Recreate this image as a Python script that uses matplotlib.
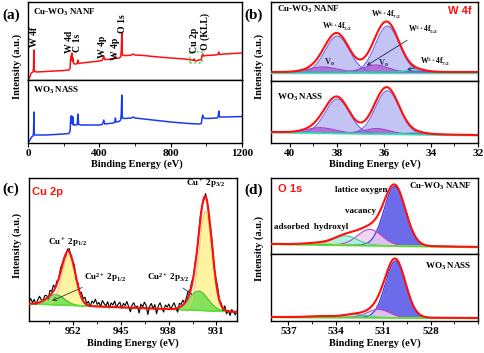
import matplotlib.pyplot as plt
import numpy as np
from matplotlib.ticker import MultipleLocator
from matplotlib.patches import Rectangle

plt.rcParams['font.family'] = 'Liberation Serif'
plt.rcParams['font.weight'] = 'bold'
plt.rcParams['mathtext.fontset'] = 'custom'
plt.rcParams['mathtext.rm'] = 'Liberation Serif:bold'
plt.rcParams['mathtext.it'] = 'Liberation Serif:bold'
plt.rcParams['mathtext.bf'] = 'Liberation Serif:bold'
plt.rcParams['axes.linewidth'] = 1.0

# ---------------- (a) survey spectra ----------------
survey_e_red = [0, 8, 18, 28, 31, 33, 35, 38, 50, 100, 150, 200, 230, 236, 240, 243, 246,
                249, 252, 255, 258, 262, 270, 276, 280, 284, 300, 350, 400, 415, 420, 425,
                430, 440, 480, 487, 490, 494, 510, 520, 523, 526, 529, 535, 560, 580, 590,
                600, 650, 700, 800, 880, 920, 928, 932, 936, 945, 955, 965, 972, 976, 980,
                985, 1000, 1050, 1065, 1070, 1074, 1100, 1150, 1200]
survey_i_red = [1, 2, 7, 8, 12, 30, 10, 8.5, 8, 8.5, 9, 9.5, 10, 12, 24, 20, 27,
                19, 22, 17, 16.5, 16, 16, 16.5, 20, 16.5, 17, 18, 19, 19.5, 21, 24,
                20.5, 20.5, 21, 22, 24, 21.5, 22, 23, 30, 47, 25, 24.5, 24.5, 25, 26,
                25, 24.5, 23.5, 22, 21, 20, 19.5, 21, 19.5, 19, 20, 20, 20.5, 24, 26,
                24, 24.5, 25, 25.5, 28, 25.5, 26, 26.5, 27]
survey_e_blue = [0, 8, 20, 28, 31, 33, 35, 38, 60, 100, 150, 200, 230, 236, 240, 243, 246,
                 249, 252, 255, 258, 270, 276, 280, 284, 300, 400, 415, 420, 425, 430, 480,
                 487, 490, 494, 510, 520, 523, 526, 529, 540, 580, 590, 600, 700, 800, 900,
                 960, 972, 976, 980, 985, 1000, 1060, 1066, 1070, 1074, 1100, 1150, 1200]
survey_i_blue = [1, 2, 6, 7, 10, 31, 9, 8, 8, 8, 8.5, 9, 9.5, 12, 27, 20, 27,
                 19, 26, 18, 18, 18, 18.5, 29, 18.5, 18, 18, 18.5, 20, 23, 19, 20,
                 21, 25, 21, 21.5, 23, 30, 48, 25, 24.5, 25, 26, 25, 23, 21, 19.5,
                 19, 19.5, 25, 28, 25, 24.5, 25, 26, 32, 26, 26, 26.2, 26.5]
survey_labels = ['W 4f', 'W 4d', 'C 1s', 'W 4p', 'W 4p', 'O 1s', 'Cu 2p', 'O (KLL)']
survey_label_e = [34, 235, 280, 415, 488, 531, 931, 996]
survey_label_i = [33, 27, 28, 22, 20, 47, 27, 30]

# ---------------- (b) W 4f fits ----------------
w_centers_top = [37.98, 35.85, 38.6, 36.35, 34.6]
w_heights_top = [36, 46, 5, 7, 2]
w_fwhm_top = [1.2, 1.2, 1.4, 1.2, 1.0]
w_bkg_top = [9.0, 9.0]
w_centers_bot = [37.98, 35.85, 38.7, 36.3, 34.6]
w_heights_bot = [34, 43, 5, 5, 1.5]
w_fwhm_bot = [1.2, 1.2, 1.4, 1.2, 1.0]
w_bkg_bot = [11.0, 8.0]
w_kind = ['w6', 'w6', 'w5', 'w5', 'w5b']

# ---------------- (c) Cu 2p fit ----------------
cu_centers = [932.6, 952.6, 933.6, 954.5]
cu_heights = [98, 50, 19, 10]
cu_fwhm = [2.2, 2.3, 3.2, 3.0]
cu_kind = ['cu1', 'cu1', 'cu2', 'cu2']
cu_bkg = [17.0, 9.0]
cu_noise = [2, 5, 1, 4, -1, 3, 6, 2, 0, 4, 3, -2, 5, 2, 6, 0, 3, -1, 4, 2,
            1, -2, 2, 3, -1, 1, 4, -2, 3, 0, 5, 2, 6, 1, 4, -1, 5, 3, 7, 2,
            4, 0, 6, 3, 1, 5, -1, 4, 2, 6, 0, 3, 5, -1, 4, 2, 6, 1, -4, 3,
            5, 0, 2, -5, 4, 1, 6, 3, -6, 2, 5, 0, 4, -5, 3, 6, 1, -3, 4, 2,
            5, 0, 3, 6, 1, -4, 4, 2, 5, 0, 3, 6, 2, 4, 1, 3, -1, 2, 4, 1,
            -2, 3, 1, -3, 2, 4, -1, 3, 5, 0, 2, -2, 4, -3, 1, -4, 2, 0, -3, 1]

# ---------------- (d) O 1s fits ----------------
o_centers_top = [530.27, 531.85, 533.4, 535.2]
o_heights_top = [58.5, 15.7, 9, 1.5]
o_fwhm_top = [1.6, 1.8, 1.8, 1.8]
o_bkg_top = [10.0, 7.0]
o_centers_bot = [530.22, 531.3, 532.8, 535.0]
o_heights_bot = [55.8, 8, 3, 1]
o_fwhm_bot = [1.5, 1.6, 1.8, 1.8]
o_bkg_bot = [4.0, 3.0]
o_kind = ['latt', 'vac', 'oh', 'ads']

W, H = 484, 353
fig = plt.figure(figsize=(W / 100, H / 100), dpi=100)


def make_ax(x0, y0, x1, y1):
    # pixel box (top-left origin) -> figure fraction
    return fig.add_axes([x0 / W, 1 - y1 / H, (x1 - x0) / W, (y1 - y0) / H])


def gauss(x, c, h, w):
    return h * np.exp(-4 * np.log(2) * (x - c) ** 2 / w ** 2)


def style(ax, top):
    ax.set_yticks([])
    ax.tick_params(axis='x', direction='out', length=3, width=0.8, labelsize=8, pad=1.5)
    ax.tick_params(axis='x', which='minor', direction='out', length=2, width=0.6)
    if top:
        ax.tick_params(axis='x', which='both', bottom=False, labelbottom=False)


def draw_fit(ax, x, bkg_ends, centers, heights, fwhm, kinds, colors):
    bkg = np.interp(x, [x[-1], x[0]], [bkg_ends[1], bkg_ends[0]])
    total = bkg.copy()
    for c, h, w, k in zip(centers, heights, fwhm, kinds):
        g = gauss(x, c, h, w)
        total += g
        fc, ec, a = colors[k]
        ax.fill_between(x, bkg, bkg + g, color=fc, alpha=a, lw=0, zorder=2)
        ax.plot(x, bkg + g, color=ec, lw=0.8, zorder=3)
    return bkg, total


# ---------- (a) ----------
a1 = make_ax(28, 2, 242, 80)
a2 = make_ax(28, 80, 242, 143)
a1.plot(survey_e_red, survey_i_red, color='#ff1010', lw=1.1)
a2.plot(survey_e_blue, survey_i_blue, color='#1a3cf0', lw=1.1)
for ax, top in [(a1, True), (a2, False)]:
    ax.set_xlim(0, 1200)
    ax.xaxis.set_major_locator(MultipleLocator(400))
    ax.xaxis.set_minor_locator(MultipleLocator(200))
    style(ax, top)
a1.set_ylim(0, 78)
a2.set_ylim(0, 63)
for lab, e, i in zip(survey_labels, survey_label_e, survey_label_i):
    a1.text(e, i, lab, rotation=90, ha='center', va='bottom', fontsize=7)
a1.add_patch(Rectangle((908, 17), 68, 11, fill=False, ec='#40e040', ls=':', lw=1.2))
a1.text(0.023, 0.87, 'Cu-WO$_3$ NANF', transform=a1.transAxes, fontsize=6.5, va='center')
a2.text(0.023, 0.84, 'WO$_3$ NASS', transform=a2.transAxes, fontsize=6.5, va='center')

# ---------- (b) ----------
w_colors = {'w6': ('#c4c4f4', '#6a6ae6', 1.0),
            'w5': ('#b050d0', '#a040c8', 0.75),
            'w5b': ('#60e8c0', '#30d0b0', 0.8)}
xb = np.linspace(40.8, 32, 400)
b1 = make_ax(271, 2, 478, 81)
b2 = make_ax(271, 81, 478, 143)
for ax, bk, cs, hs, fw in [(b1, w_bkg_top, w_centers_top, w_heights_top, w_fwhm_top),
                           (b2, w_bkg_bot, w_centers_bot, w_heights_bot, w_fwhm_bot)]:
    bkg, tot = draw_fit(ax, xb, bk, cs, hs, fw, w_kind, w_colors)
    ax.plot(xb, bkg - 0.8, color='#40e0b0', lw=1.0, zorder=3)
    ax.plot(xb, tot, color='#ff1010', lw=1.5, zorder=4)
for ax, top in [(b1, True), (b2, False)]:
    ax.set_xlim(40.8, 32)
    ax.xaxis.set_major_locator(MultipleLocator(2))
    ax.xaxis.set_minor_locator(MultipleLocator(1))
    style(ax, top)
b1.set_ylim(0, 79)
b2.set_ylim(0, 62)
b1.text(0.03, 0.90, 'Cu-WO$_3$ NANF', transform=b1.transAxes, fontsize=6.5, va='center')
b1.text(0.97, 0.89, 'W 4f', transform=b1.transAxes, fontsize=8, va='center', ha='right',
        color='#ff1010', family='Liberation Sans')
b2.text(0.03, 0.73, 'WO$_3$ NASS', transform=b2.transAxes, fontsize=6.5, va='center')
b1.text(37.98, 54, 'W$^{6+}$4f$_{5/2}$', fontsize=5.5, ha='center', va='center')
b1.text(35.92, 66, 'W$^{6+}$4f$_{7/2}$', fontsize=5.5, ha='center', va='center')
b1.annotate('W$^{5+}$4f$_{5/2}$', xy=(36.83, 14), xytext=(34.96, 51), fontsize=5.5,
            va='center', arrowprops=dict(arrowstyle='->', color='#202060', lw=0.6))
b1.annotate('W$^{5+}$4f$_{7/2}$', xy=(35.13, 10.3), xytext=(34.45, 19.5), fontsize=5.5,
            va='center', arrowprops=dict(arrowstyle='->', color='#202060', lw=0.6))
b1.text(38.3, 19, 'V$_o$', fontsize=6, ha='center', va='center', color='#202040')
b1.text(36.0, 18, 'V$_o$', fontsize=6, ha='center', va='center', color='#202040')

# ---------- (c) ----------
cu_colors = {'cu1': ('#fff2a0', '#f0c860', 1.0),
             'cu2': ('#70e050', '#40c030', 0.85)}
xc = np.linspace(958.4, 928, 400)
c1 = make_ax(29, 178, 237, 321)
bkg, tot = draw_fit(c1, xc, cu_bkg, cu_centers, cu_heights, cu_fwhm, cu_kind, cu_colors)
c1.plot(xc, bkg, color='#60e040', lw=1.2, zorder=3)
xn = np.linspace(958.4, 928, len(cu_noise))
raw = np.interp(xn, xc[::-1], tot[::-1]) + np.array(cu_noise)
c1.plot(xn, raw, color='black', lw=0.8, zorder=4)
c1.plot(xc, tot, color='#ff1010', lw=1.5, zorder=5)
c1.set_xlim(958.4, 928)
c1.set_ylim(0, 141)
c1.set_xticks([952, 945, 938, 931])
c1.xaxis.set_minor_locator(MultipleLocator(3.5))
style(c1, False)
c1.text(0.016, 0.905, 'Cu 2p', transform=c1.transAxes, fontsize=8, va='center',
        color='#ff1010', family='Liberation Sans')
c1.text(932.6, 135, 'Cu$^+$ 2p$_{3/2}$', fontsize=6.5, ha='center', va='center')
c1.text(952.8, 77, 'Cu$^+$ 2p$_{1/2}$', fontsize=6.5, ha='center', va='center')
c1.annotate('Cu$^{2+}$ 2p$_{1/2}$', xy=(955.4, 18.7), xytext=(950.3, 43.3), fontsize=6.5,
            va='center', arrowprops=dict(arrowstyle='->', color='#204040', lw=0.6))
c1.annotate('Cu$^{2+}$ 2p$_{3/2}$', xy=(934.2, 24.3), xytext=(938.1, 43.3), fontsize=6.5,
            va='center', ha='center', arrowprops=dict(arrowstyle='->', color='#204040', lw=0.6))

# ---------- (d) ----------
o_colors = {'latt': ('#5c5ce8', '#3030d8', 0.9),
            'vac': ('#f2d0f0', '#c040d0', 0.85),
            'oh': ('#a8f0dc', '#40c8a0', 0.9),
            'ads': ('#f8f080', '#e0d040', 0.9)}
xd = np.linspace(538.1, 525, 400)
d1 = make_ax(271, 178, 478, 254)
d2 = make_ax(271, 254, 478, 321)
for ax, bk, cs, hs, fw in [(d1, o_bkg_top, o_centers_top, o_heights_top, o_fwhm_top),
                           (d2, o_bkg_bot, o_centers_bot, o_heights_bot, o_fwhm_bot)]:
    bkg, tot = draw_fit(ax, xd, bk, cs, hs, fw, o_kind, o_colors)
    ax.plot(xd, bkg - 0.5, color='#50e030', lw=1.2, zorder=3)
    ax.plot(xd, tot, color='#ff1010', lw=1.5, zorder=4)
for ax, top in [(d1, True), (d2, False)]:
    ax.set_xlim(538.1, 525)
    ax.set_xticks([537, 534, 531, 528])
    ax.xaxis.set_minor_locator(MultipleLocator(1.5))
    style(ax, top)
d1.set_ylim(0, 75)
d2.set_ylim(0, 66)
d1.text(0.034, 0.86, 'O 1s', transform=d1.transAxes, fontsize=8, va='center',
        color='#ff1010', family='Liberation Sans')
d1.text(0.97, 0.89, 'Cu-WO$_3$ NANF', transform=d1.transAxes, fontsize=6.5, va='center', ha='right')
d2.text(0.97, 0.82, 'WO$_3$ NASS', transform=d2.transAxes, fontsize=6.5, va='center', ha='right')
d1.text(532.37, 63.3, 'lattice oxygen', fontsize=6.5, ha='center', va='center')
d1.text(532.43, 42.3, 'vacancy', fontsize=6.5, ha='center', va='center')
d1.text(537.9, 26.7, 'adsorbed  hydroxyl', fontsize=6.5, ha='left', va='center')

# ---------- shared labels ----------
for x, y in [(17, 66), (259, 66), (17, 245), (259, 248)]:
    fig.text(x / W, 1 - y / H, 'Intensity (a.u.)', rotation=90, ha='center', va='center', fontsize=7.5)
for x, y in [(137, 164), (375, 164), (133, 343), (375, 343)]:
    fig.text(x / W, 1 - y / H, 'Binding Energy (eV)', ha='center', va='center', fontsize=7.5)
for lab, x, y in [('(a)', 2, 15), ('(b)', 244, 15), ('(c)', 2, 189), ('(d)', 244, 190)]:
    fig.text(x / W, 1 - y / H, lab, ha='left', va='center', fontsize=11)

fig.savefig('out.png', dpi=100)
